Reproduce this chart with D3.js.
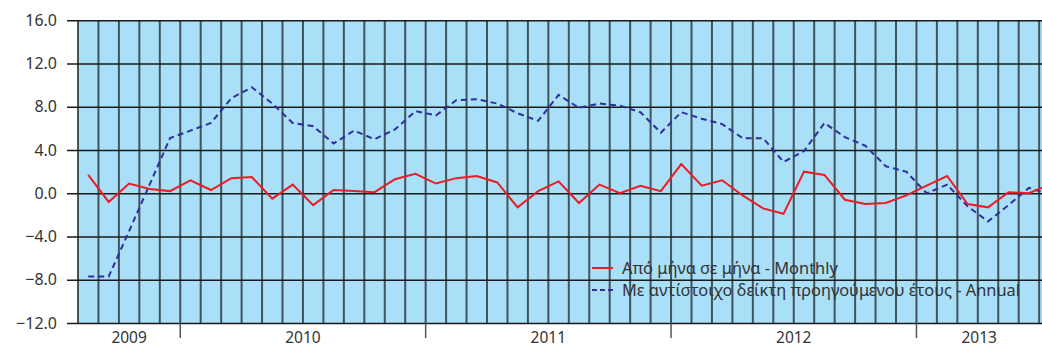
<!DOCTYPE html>
<head>
  <meta charset="utf-8">
  <script src="https://d3js.org/d3.v7.min.js"></script>
  <style>
    body { margin:0; background:#fff; }
    svg { display:block; font-family:"Noto Sans", sans-serif; }
  </style>
</head>
<body>
  <svg width="1042" height="348"></svg>
  <script>
    // months on the category axis (Aug 2009 - Jul 2013)
    var months = [
      '2009-08','2009-09','2009-10','2009-11','2009-12',
      '2010-01','2010-02','2010-03','2010-04','2010-05','2010-06','2010-07','2010-08','2010-09','2010-10','2010-11','2010-12',
      '2011-01','2011-02','2011-03','2011-04','2011-05','2011-06','2011-07','2011-08','2011-09','2011-10','2011-11','2011-12',
      '2012-01','2012-02','2012-03','2012-04','2012-05','2012-06','2012-07','2012-08','2012-09','2012-10','2012-11','2012-12',
      '2013-01','2013-02','2013-03','2013-04','2013-05','2013-06','2013-07'
    ];
    var years = ['2009', '2010', '2011', '2012', '2013'];

    var monthly = [
      1.7, -0.8, 0.9, 0.4, 0.2,
      1.2, 0.3, 1.4, 1.5, -0.5, 0.8, -1.1, 0.3, 0.2, 0.1, 1.3, 1.8,
      0.9, 1.4, 1.6, 1.0, -1.3, 0.2, 1.1, -0.9, 0.8, 0.0, 0.7, 0.2,
      2.7, 0.7, 1.2, -0.2, -1.4, -1.9, 2.0, 1.7, -0.6, -1.0, -0.9, -0.2,
      0.7, 1.6, -1.0, -1.3, 0.1, 0.0, 0.8
    ];
    var annual = [
      -7.7, -7.7, -3.5, 0.8, 5.1,
      5.8, 6.5, 8.8, 9.8, 8.3, 6.5, 6.2, 4.6, 5.8, 5.0, 5.9, 7.6,
      7.2, 8.6, 8.7, 8.3, 7.4, 6.7, 9.1, 7.9, 8.3, 8.1, 7.5, 5.6,
      7.5, 6.9, 6.4, 5.1, 5.1, 2.9, 3.9, 6.5, 5.2, 4.4, 2.5, 2.0,
      0.0, 0.8, -1.2, -2.6, -1.1, 0.5, -0.1
    ];
    var yTicks = [-12, -8, -4, 0, 4, 8, 12, 16];
    var seriesNames = [
      'Από μήνα σε μήνα - Monthly',
      'Με αντίστοιχο δείκτη προηγούμενου έτους - Annual'
    ];

    var width = 1042;
    var margin = {top: 20.3, left: 78, bottom: 323};
    var cell = 20.45;

    var svg = d3.select('svg');

    var xScale = d3.scaleBand()
      .domain(months)
      .range([margin.left, margin.left + cell * months.length]);

    var yScale = d3.scaleLinear()
      .domain([-12, 16])
      .range([margin.bottom, margin.top]);

    // plot background
    svg.append('rect')
      .attr('x', margin.left)
      .attr('y', margin.top)
      .attr('width', xScale.range()[1] - margin.left)
      .attr('height', margin.bottom - margin.top)
      .attr('fill', '#aadff8');

    // vertical gridlines on every month boundary
    var bounds = months.map(function(m) { return xScale(m); });
    bounds.push(xScale.range()[1]);
    svg.append('g').selectAll('line')
      .data(bounds)
      .enter().append('line')
      .attr('x1', function(d) { return d; })
      .attr('x2', function(d) { return d; })
      .attr('y1', margin.top)
      .attr('y2', margin.bottom)
      .attr('stroke', '#36444a')
      .attr('stroke-opacity', 0.9)
      .attr('stroke-width', 2);

    // horizontal gridlines + y axis
    var yAxis = d3.axisLeft(yScale)
      .tickValues(yTicks)
      .tickFormat(d3.format('.1f'))
      .tickSize(-(xScale.range()[1] - margin.left))
      .tickSizeOuter(0);

    var gy = svg.append('g')
      .attr('transform', 'translate(' + [margin.left, 0] + ')')
      .call(yAxis);
    gy.select('.domain').remove();
    gy.selectAll('.tick line')
      .attr('x1', -11)
      .attr('stroke', '#1a1a1a')
      .attr('stroke-width', 1.5);
    gy.selectAll('.tick text')
      .attr('x', -21)
      .attr('font-size', 16)
      .attr('fill', '#333')
      .attr('font-family', '"Noto Sans", sans-serif');

    // year groups under the axis
    var groups = years.map(function(y) {
      var ms = months.filter(function(m) { return m.slice(0, 4) === y; });
      var x0 = xScale(ms[0]);
      var x1 = xScale(ms[ms.length - 1]) + xScale.bandwidth();
      return {year: y, x0: x0, x1: x1};
    });

    svg.append('g').selectAll('line')
      .data(groups.slice(1))
      .enter().append('line')
      .attr('x1', function(d) { return d.x0; })
      .attr('x2', function(d) { return d.x0; })
      .attr('y1', margin.bottom)
      .attr('y2', 338)
      .attr('stroke', '#555')
      .attr('stroke-width', 1.5);

    svg.append('g').selectAll('text')
      .data(groups)
      .enter().append('text')
      .attr('x', function(d) { return (d.x0 + Math.min(d.x1, width)) / 2; })
      .attr('y', 343)
      .attr('text-anchor', 'middle')
      .attr('font-size', 15.5)
      .attr('fill', '#333')
      .text(function(d) { return d.year; });

    // lines
    var center = function(i) { return xScale(months[i]) + xScale.bandwidth() / 2; };
    var line = d3.line()
      .x(function(d, i) { return center(i); })
      .y(function(d) { return yScale(d); });

    svg.append('path')
      .datum(annual)
      .attr('d', line)
      .attr('fill', 'none')
      .attr('stroke', '#2e2e9e')
      .attr('stroke-width', 2)
      .attr('stroke-dasharray', '6,4');

    svg.append('path')
      .datum(monthly)
      .attr('d', line)
      .attr('fill', 'none')
      .attr('stroke', '#ec1c24')
      .attr('stroke-width', 2);

    // legend
    var legend = svg.append('g').attr('transform', 'translate(592,268)');
    var styles = [
      {stroke: '#ec1c24', dash: null},
      {stroke: '#2e2e9e', dash: '5,3'}
    ];
    seriesNames.forEach(function(name, i) {
      var row = legend.append('g').attr('transform', 'translate(0,' + (i * 22) + ')');
      row.append('line')
        .attr('x1', 0).attr('x2', 21)
        .attr('stroke', styles[i].stroke)
        .attr('stroke-width', 2)
        .attr('stroke-dasharray', styles[i].dash);
      row.append('text')
        .attr('x', 30)
        .attr('y', 6)
        .attr('font-size', 16.4)
        .attr('fill', '#333')
        .text(name);
    });
  </script>
</body>
